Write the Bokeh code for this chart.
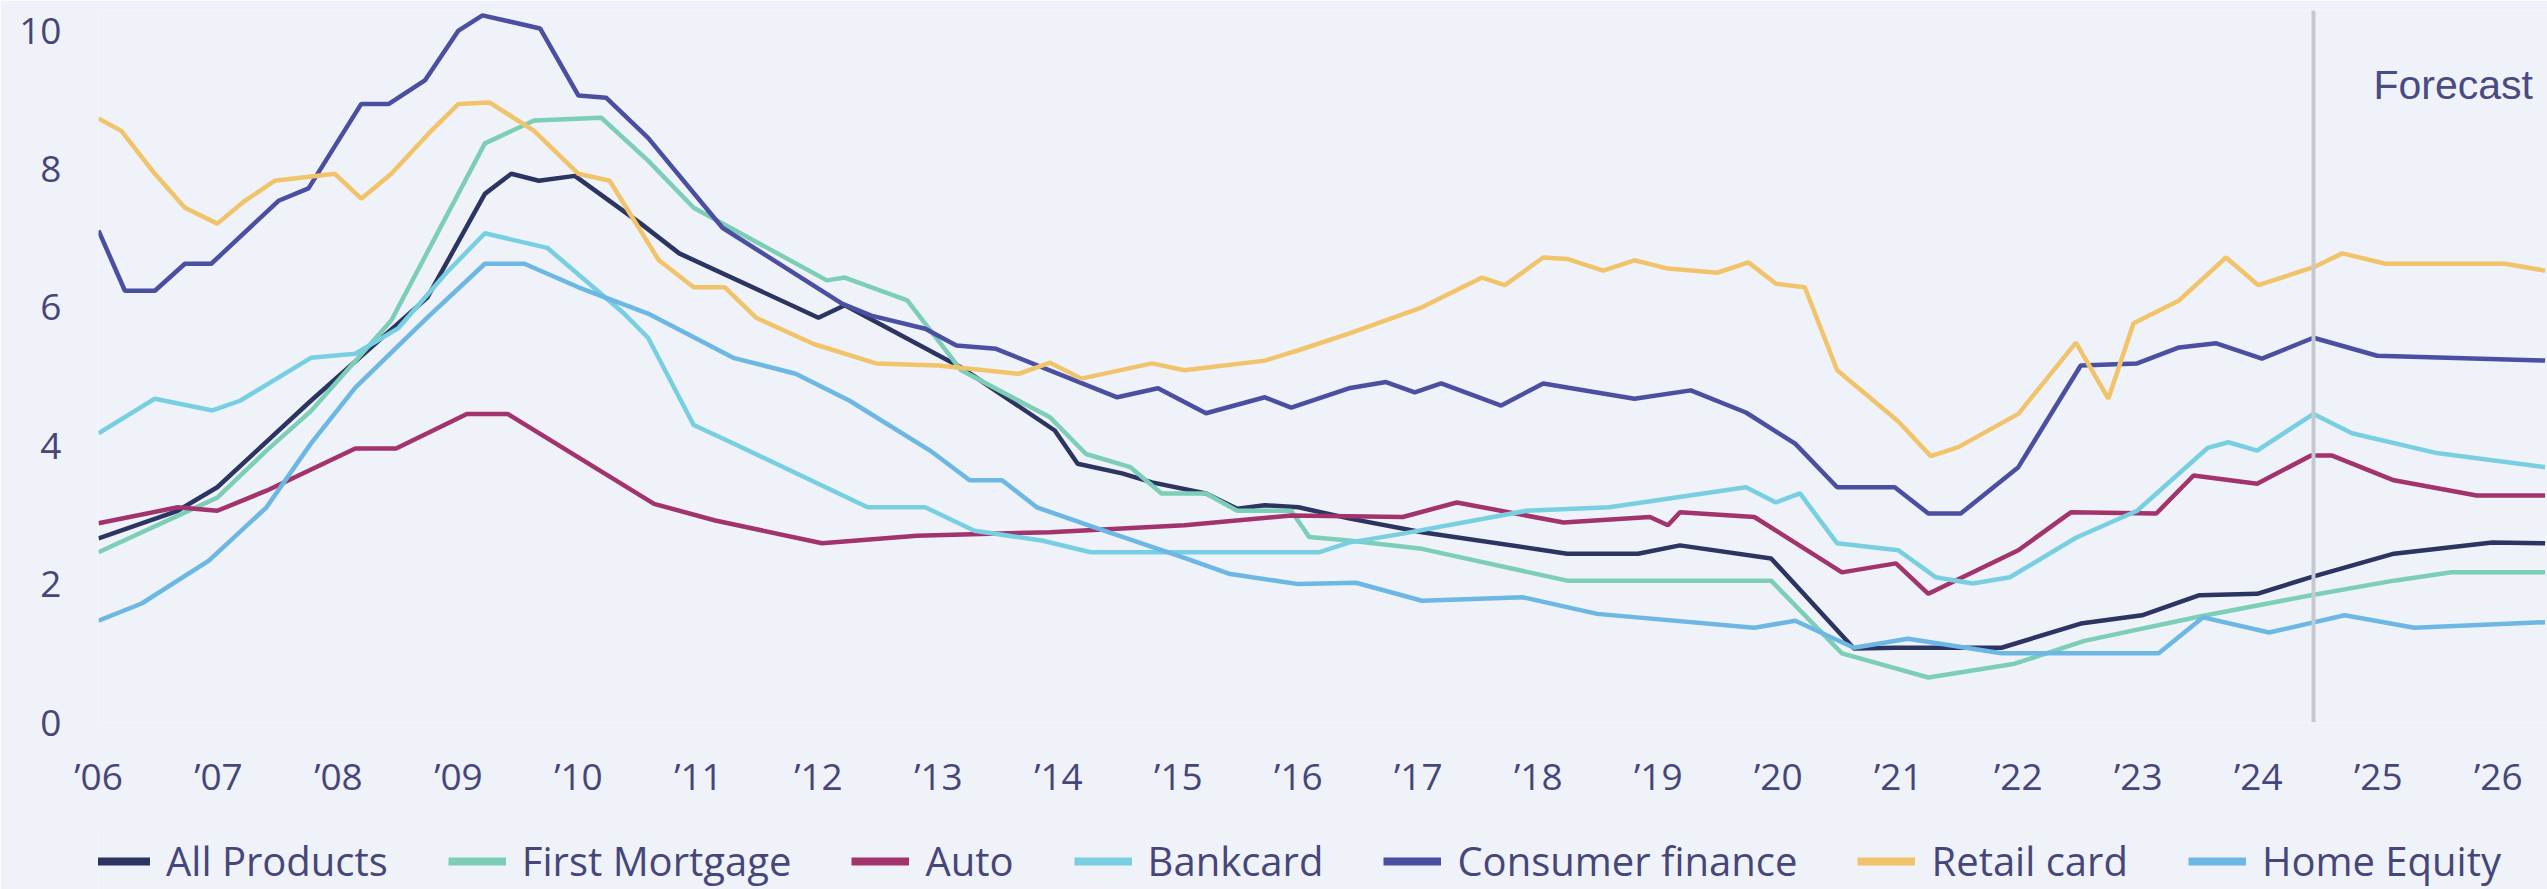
from bokeh.plotting import figure
from bokeh.layouts import column
from bokeh.models import Range1d, FixedTicker, Span, Legend, LegendItem
from bokeh.core.properties import value
from bokeh.embed import file_html
from bokeh.resources import INLINE

# ---------------- data ----------------
tick_years = [2006, 2007, 2008, 2009, 2010, 2011, 2012, 2013, 2014, 2015, 2016,
              2017, 2018, 2019, 2020, 2021, 2022, 2023, 2024, 2025, 2026]
tick_labels = ["’06", "’07", "’08", "’09", "’10", "’11", "’12", "’13", "’14", "’15", "’16",
               "’17", "’18", "’19", "’20", "’21", "’22", "’23", "’24", "’25", "’26"]
y_ticks = [0, 2, 4, 6, 8, 10]

all_products_x = [2006.0, 2006.66, 2006.99, 2007.32, 2007.77, 2008.74, 2009.22, 2009.44, 2009.67, 2009.97,
                  2010.52, 2010.84, 2012.0, 2012.22, 2013.19, 2013.97, 2014.16, 2014.53, 2014.78, 2015.23,
                  2015.49, 2015.72, 2016.0, 2016.42, 2017.03, 2018.24, 2018.83, 2019.18, 2019.94, 2020.63,
                  2020.98, 2021.86, 2022.52, 2023.03, 2023.51, 2023.99, 2024.44, 2025.13, 2025.95, 2026.39]
all_products_y = [2.66, 3.06, 3.40, 3.93, 4.65, 6.14, 7.64, 7.93, 7.83, 7.90,
                  7.21, 6.78, 5.85, 6.03, 5.13, 4.22, 3.74, 3.60, 3.47, 3.31,
                  3.09, 3.14, 3.11, 2.95, 2.75, 2.44, 2.44, 2.56, 2.37, 1.07,
                  1.08, 1.08, 1.43, 1.55, 1.84, 1.86, 2.10, 2.44, 2.60, 2.59]

first_mortgage_x = [2006.0, 2006.99, 2007.4, 2007.77, 2008.44, 2009.22, 2009.63, 2010.19, 2010.58, 2010.96,
                    2012.07, 2012.22, 2012.74, 2013.19, 2013.93, 2014.23, 2014.6, 2014.86, 2015.23, 2015.49,
                    2015.94, 2016.09, 2016.42, 2017.03, 2018.24, 2019.94, 2020.53, 2021.25, 2021.97, 2022.55,
                    2023.48, 2024.44, 2025.13, 2025.61, 2026.39]
first_mortgage_y = [2.46, 3.25, 3.93, 4.50, 5.81, 8.37, 8.70, 8.74, 8.12, 7.44,
                    6.39, 6.43, 6.10, 5.09, 4.41, 3.88, 3.69, 3.31, 3.31, 3.06,
                    3.06, 2.68, 2.63, 2.51, 2.05, 2.05, 1.00, 0.65, 0.85, 1.18,
                    1.52, 1.84, 2.05, 2.17, 2.17]

auto_x = [2006.0, 2006.66, 2006.99, 2007.4, 2008.14, 2008.48, 2009.07, 2009.41, 2010.63, 2011.14,
          2012.03, 2012.82, 2013.93, 2015.05, 2015.94, 2016.87, 2017.32, 2018.21, 2018.93, 2019.08,
          2019.18, 2019.8, 2020.53, 2020.98, 2021.25, 2022.0, 2022.44, 2023.15, 2023.46, 2023.99,
          2024.44, 2024.61, 2025.13, 2025.82, 2026.39]
auto_y = [2.88, 3.11, 3.06, 3.35, 3.96, 3.96, 4.46, 4.46, 3.16, 2.92,
          2.59, 2.70, 2.75, 2.85, 2.99, 2.97, 3.18, 2.89, 2.97, 2.85,
          3.04, 2.97, 2.17, 2.30, 1.86, 2.49, 3.04, 3.02, 3.57, 3.45,
          3.86, 3.86, 3.50, 3.28, 3.28]

bankcard_x = [2006.0, 2006.47, 2006.95, 2007.18, 2007.77, 2008.14, 2008.5, 2008.9, 2009.22, 2009.74,
              2010.38, 2010.58, 2010.96, 2011.27, 2012.41, 2012.89, 2013.3, 2013.86, 2014.27, 2016.17,
              2016.42, 2016.87, 2017.9, 2018.59, 2019.73, 2019.98, 2020.18, 2020.49, 2021.0, 2021.31,
              2021.62, 2021.93, 2022.48, 2022.99, 2023.58, 2023.75, 2023.99, 2024.46, 2024.78, 2025.47,
              2026.39]
bankcard_y = [4.18, 4.68, 4.51, 4.65, 5.27, 5.33, 5.70, 6.50, 7.07, 6.86,
              5.91, 5.56, 4.30, 4.05, 3.11, 3.11, 2.77, 2.63, 2.46, 2.46,
              2.60, 2.73, 3.06, 3.11, 3.40, 3.18, 3.31, 2.59, 2.49, 2.10,
              2.01, 2.10, 2.67, 3.06, 3.97, 4.05, 3.93, 4.46, 4.18, 3.90,
              3.69]

consumer_finance_x = [2006.0, 2006.22, 2006.47, 2006.72, 2006.94, 2007.5, 2007.75, 2008.19, 2008.42, 2008.72,
                      2009.0, 2009.2, 2009.68, 2010.0, 2010.23, 2010.58, 2011.2, 2012.2, 2012.44, 2012.89,
                      2013.15, 2013.48, 2014.49, 2014.83, 2015.23, 2015.72, 2015.94, 2016.42, 2016.73, 2016.97,
                      2017.19, 2017.69, 2018.04, 2018.8, 2019.27, 2019.73, 2020.14, 2020.49, 2020.97, 2021.25,
                      2021.52, 2022.0, 2022.52, 2022.99, 2023.34, 2023.65, 2024.03, 2024.46, 2024.99, 2026.39]
consumer_finance_y = [7.11, 6.24, 6.24, 6.63, 6.63, 7.54, 7.72, 8.94, 8.94, 9.28,
                      10.0, 10.22, 10.03, 9.06, 9.03, 8.45, 7.15, 6.05, 5.88, 5.69,
                      5.45, 5.40, 4.70, 4.83, 4.47, 4.70, 4.55, 4.83, 4.92, 4.77,
                      4.90, 4.58, 4.90, 4.68, 4.80, 4.48, 4.03, 3.40, 3.40, 3.02,
                      3.02, 3.69, 5.16, 5.19, 5.42, 5.48, 5.26, 5.56, 5.30, 5.23]

retail_card_x = [2006.0, 2006.19, 2006.47, 2006.72, 2006.99, 2007.22, 2007.47, 2007.72, 2007.97, 2008.19,
                 2008.44, 2008.75, 2009.0, 2009.26, 2009.63, 2010.0, 2010.26, 2010.67, 2010.96, 2011.22,
                 2011.48, 2011.96, 2012.48, 2013.0, 2013.67, 2013.93, 2014.19, 2014.78, 2015.05, 2015.72,
                 2016.0, 2016.42, 2017.03, 2017.53, 2017.72, 2018.04, 2018.24, 2018.54, 2018.8, 2019.08,
                 2019.49, 2019.75, 2019.98, 2020.22, 2020.49, 2021.0, 2021.27, 2021.5, 2022.0, 2022.48,
                 2022.75, 2022.96, 2023.34, 2023.73, 2024.0, 2024.46, 2024.7, 2025.06, 2026.06, 2026.39]
retail_card_y = [8.73, 8.55, 7.93, 7.44, 7.21, 7.54, 7.83, 7.88, 7.93, 7.57,
                 7.93, 8.51, 8.94, 8.96, 8.55, 7.93, 7.83, 6.68, 6.29, 6.29,
                 5.85, 5.47, 5.19, 5.16, 5.04, 5.20, 4.97, 5.19, 5.09, 5.23,
                 5.38, 5.62, 6.00, 6.43, 6.32, 6.72, 6.70, 6.53, 6.68, 6.56,
                 6.50, 6.65, 6.34, 6.29, 5.09, 4.35, 3.85, 3.98, 4.46, 5.49,
                 4.68, 5.77, 6.10, 6.72, 6.32, 6.58, 6.78, 6.63, 6.63, 6.53]

home_equity_x = [2006.0, 2006.36, 2006.92, 2007.4, 2007.77, 2008.14, 2008.74, 2009.22, 2009.55, 2010.0,
                 2010.58, 2011.29, 2011.81, 2012.26, 2012.93, 2013.26, 2013.53, 2013.82, 2014.3, 2015.05,
                 2015.42, 2016.0, 2016.48, 2017.03, 2017.87, 2018.49, 2019.8, 2020.14, 2020.63, 2021.08,
                 2021.86, 2023.17, 2023.54, 2024.09, 2024.72, 2025.3, 2026.39]
home_equity_y = [1.47, 1.72, 2.34, 3.11, 4.03, 4.84, 5.85, 6.63, 6.63, 6.29,
                 5.91, 5.27, 5.04, 4.65, 3.93, 3.50, 3.50, 3.11, 2.82, 2.38,
                 2.15, 2.00, 2.02, 1.76, 1.81, 1.57, 1.37, 1.47, 1.08, 1.21,
                 1.00, 1.00, 1.52, 1.30, 1.55, 1.37, 1.45]

series_names = ["All Products", "First Mortgage", "Auto", "Bankcard",
                "Consumer finance", "Retail card", "Home Equity"]
series_colors = ["#2c3461", "#7ccfb6", "#a3336c", "#78cfe2", "#4b4fa1", "#f1c36a", "#6cb7e3"]
series_x = [all_products_x, first_mortgage_x, auto_x, bankcard_x,
            consumer_finance_x, retail_card_x, home_equity_x]
series_y = [all_products_y, first_mortgage_y, auto_y, bankcard_y,
            consumer_finance_y, retail_card_y, home_equity_y]

forecast_start = 2024.46
forecast_label = "Forecast"
forecast_label_x = 2024.96
forecast_label_y = 9.22

# ---------------- styling ----------------
BG = "#eff3f9"
TEXT = "#47467a"
FONT = "Open Sans"
W = 2547
NAN = float("nan")

p = figure(width=W, height=830, output_backend="svg", toolbar_location=None,
           x_range=Range1d(2006.0, 2026.41), y_range=Range1d(0, 10.29),
           title_location=None, min_border_left=98, min_border_right=0,
           min_border_top=10, min_border_bottom=108)
p.background_fill_color = BG
p.border_fill_color = BG
p.outline_line_color = None
p.grid.visible = False

for ax in (p.xaxis[0], p.yaxis[0]):
    ax.axis_line_color = None
    ax.major_tick_line_color = None
    ax.minor_tick_line_color = None
    ax.major_tick_out = 0
    ax.major_tick_in = 0
    ax.major_label_text_font = FONT
    ax.major_label_text_font_size = "37px"
    ax.major_label_text_color = TEXT

p.xaxis.ticker = FixedTicker(ticks=tick_years)
p.xaxis.major_label_overrides = {yr: lab for yr, lab in zip(tick_years, tick_labels)}
p.xaxis.major_label_standoff = 27
p.yaxis.ticker = FixedTicker(ticks=y_ticks)
p.yaxis.major_label_standoff = 37

p.add_layout(Span(location=forecast_start, dimension="height",
                  line_color="#c6c8d0", line_width=4))

# legend strip under the chart (overlaps the chart by 2px to hide any seam)
lg = figure(width=W, height=61, output_backend="svg", toolbar_location=None,
            x_axis_type=None, y_axis_type=None, title_location=None,
            x_range=Range1d(0, 1), y_range=Range1d(0, 1),
            min_border_left=98, min_border_right=0, min_border_top=0, min_border_bottom=0)
lg.background_fill_color = BG
lg.border_fill_color = BG
lg.outline_line_color = None
lg.grid.visible = False
lg.margin = (-2, 0, 0, 0)

items = []
for name, color, xs, ys in zip(series_names, series_colors, series_x, series_y):
    p.line(xs, ys, line_color=color, line_width=4.5)
    swatch = lg.line([NAN], [NAN], line_color=color, line_width=8)
    items.append(LegendItem(label=name, renderers=[swatch]))

p.text(x=[forecast_label_x], y=[forecast_label_y], text=[forecast_label],
       text_font=value("Liberation Sans"), text_font_size="41px",
       text_color="#4a4b82", text_baseline="alphabetic", text_align="left")

legend = Legend(items=items, orientation="horizontal", location=(-6, 1),
                label_text_font=FONT, label_text_font_size="40px", label_text_color=TEXT,
                glyph_width=58, glyph_height=46, label_height=46, label_standoff=16,
                spacing=60, padding=0, margin=0,
                background_fill_alpha=0, border_line_color=None)
lg.add_layout(legend, "center")

page = column(p, lg, spacing=0)

open("out.html", "w").write(file_html(page, INLINE))
